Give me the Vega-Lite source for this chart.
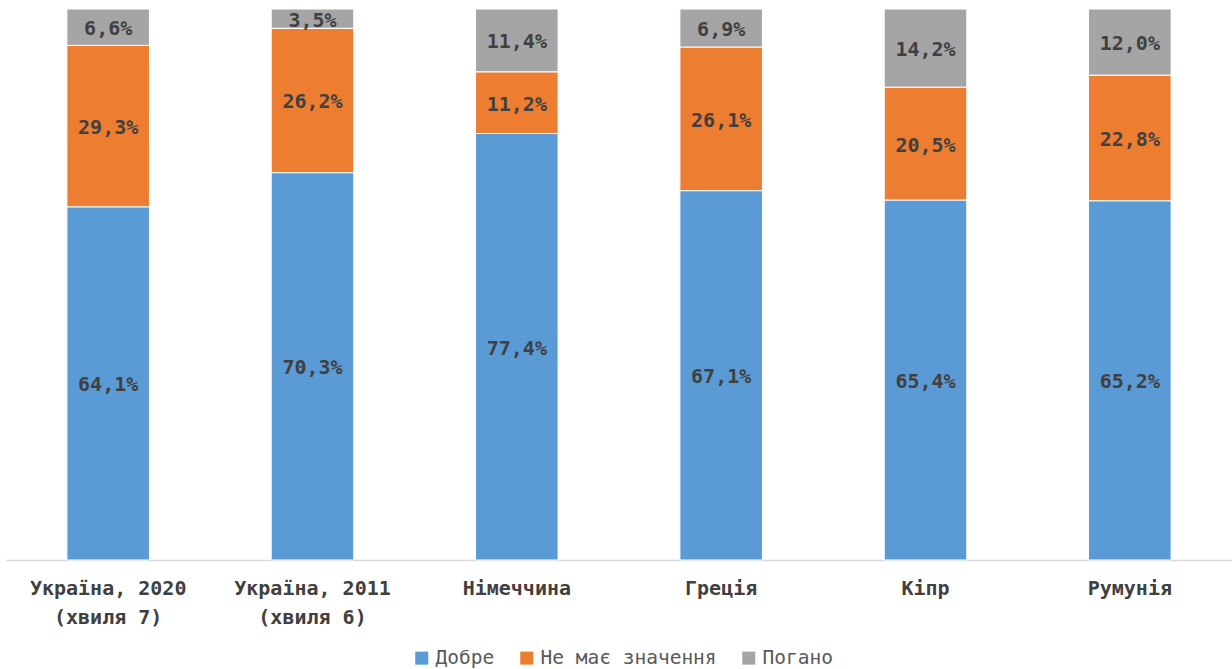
{
  "$schema": "https://vega.github.io/schema/vega-lite/v6.json",
  "width": 1226,
  "height": 551,
  "autosize": {"type": "none"},
  "padding": {"left": 6, "top": 9, "right": 0, "bottom": 109},
  "background": "#ffffff",
  "config": {"view": {"stroke": null}, "font": "DejaVu Sans Mono"},
  "data": {"values": [
    {"country": "Україна, 2020 (хвиля 7)", "series": "Добре", "k": 1, "v": 64.1},
    {"country": "Україна, 2020 (хвиля 7)", "series": "Не має значення", "k": 2, "v": 29.3},
    {"country": "Україна, 2020 (хвиля 7)", "series": "Погано", "k": 3, "v": 6.6},
    {"country": "Україна, 2011 (хвиля 6)", "series": "Добре", "k": 1, "v": 70.3},
    {"country": "Україна, 2011 (хвиля 6)", "series": "Не має значення", "k": 2, "v": 26.2},
    {"country": "Україна, 2011 (хвиля 6)", "series": "Погано", "k": 3, "v": 3.5},
    {"country": "Німеччина", "series": "Добре", "k": 1, "v": 77.4},
    {"country": "Німеччина", "series": "Не має значення", "k": 2, "v": 11.2},
    {"country": "Німеччина", "series": "Погано", "k": 3, "v": 11.4},
    {"country": "Греція", "series": "Добре", "k": 1, "v": 67.1},
    {"country": "Греція", "series": "Не має значення", "k": 2, "v": 26.1},
    {"country": "Греція", "series": "Погано", "k": 3, "v": 6.9},
    {"country": "Кіпр", "series": "Добре", "k": 1, "v": 65.4},
    {"country": "Кіпр", "series": "Не має значення", "k": 2, "v": 20.5},
    {"country": "Кіпр", "series": "Погано", "k": 3, "v": 14.2},
    {"country": "Румунія", "series": "Добре", "k": 1, "v": 65.2},
    {"country": "Румунія", "series": "Не має значення", "k": 2, "v": 22.8},
    {"country": "Румунія", "series": "Погано", "k": 3, "v": 12.0}
  ]},
  "transform": [
    {"stack": "v", "groupby": ["country"], "sort": [{"field": "k", "order": "ascending"}], "offset": "normalize", "as": ["y0", "y1"]},
    {"calculate": "(datum.y0 + datum.y1) / 2", "as": "ym"},
    {"calculate": "replace(format(datum.v, '.1f'), '.', ',') + '%'", "as": "lbl"}
  ],
  "encoding": {
    "x": {
      "field": "country", "type": "nominal", "sort": null,
      "scale": {"paddingInner": 0.596, "paddingOuter": 0.298},
      "axis": {
        "title": null, "labelAngle": 0, "ticks": false,
        "domainColor": "#D9D9D9", "domainWidth": 1.5,
        "labelFont": "DejaVu Sans Mono", "labelFontSize": 20, "labelFontWeight": "bold",
        "labelColor": "#404040", "labelPadding": 18, "labelLineHeight": 29, "labelLimit": 300,
        "labelExpr": "indexof(datum.label, ' (') > 0 ? [substring(datum.label, 0, indexof(datum.label, ' (')), substring(datum.label, indexof(datum.label, ' (') + 1)] : datum.label"
      }
    }
  },
  "layer": [
    {
      "mark": {"type": "bar", "stroke": "#ffffff", "strokeWidth": 1},
      "encoding": {
        "y": {"field": "y0", "type": "quantitative", "scale": {"domain": [0, 1], "nice": false}, "axis": null},
        "y2": {"field": "y1"},
        "color": {
          "field": "series", "type": "nominal",
          "scale": {"domain": ["Добре", "Не має значення", "Погано"], "range": ["#5B9BD5", "#ED7D31", "#A5A5A5"]},
          "legend": {
            "title": null, "orient": "none", "direction": "horizontal", "legendX": 406, "legendY": 639,
            "symbolType": "square", "symbolSize": 169, "symbolStrokeWidth": 0,
            "labelFont": "DejaVu Sans Mono", "labelFontSize": 19.5, "labelColor": "#595959",
            "labelOffset": 4, "columnPadding": 22, "labelLimit": 400
          }
        }
      }
    },
    {
      "mark": {"type": "text", "font": "DejaVu Sans Mono", "fontSize": 20, "fontWeight": "bold", "color": "#404040", "baseline": "middle", "dy": 2},
      "encoding": {
        "y": {"field": "ym", "type": "quantitative"},
        "text": {"field": "lbl"}
      }
    }
  ]
}
